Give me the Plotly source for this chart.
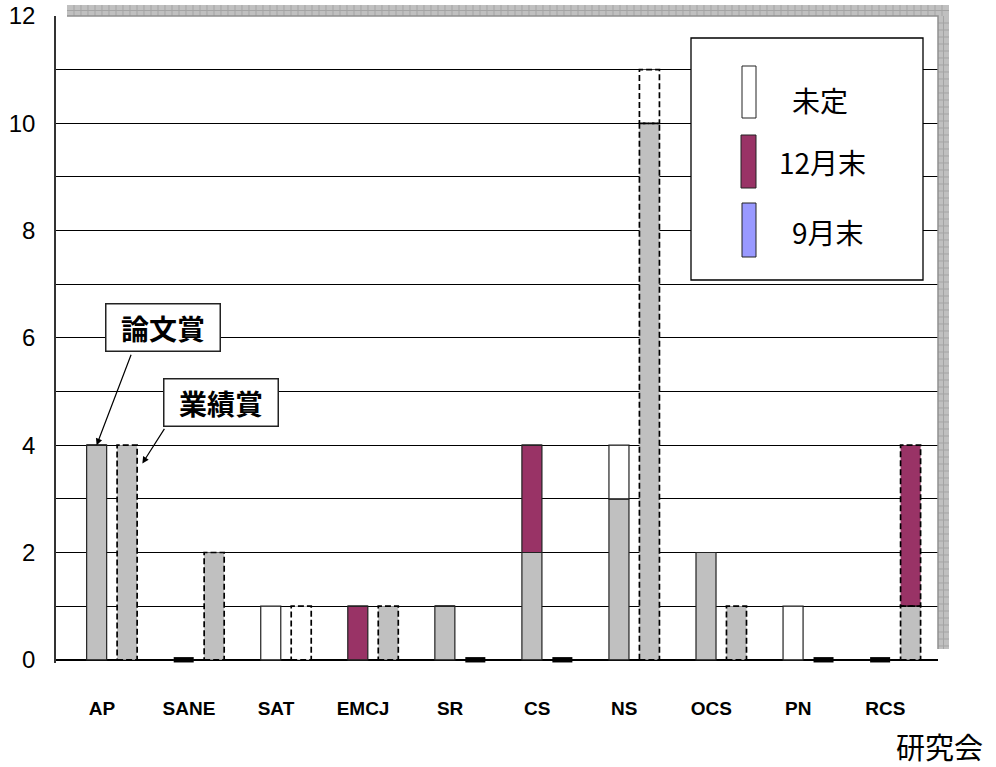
import plotly.graph_objects as go

# ---------------- data ----------------
categories = ['AP', 'SANE', 'SAT', 'EMCJ', 'SR', 'CS', 'NS', 'OCS', 'PN', 'RCS']
# 論文賞 (solid outline)
ronbun_sep = [4, 0, 0, 0, 1, 2, 3, 2, 0, 0]
ronbun_dec = [0, 0, 0, 1, 0, 2, 0, 0, 0, 0]
ronbun_tbd = [0, 0, 1, 0, 0, 0, 1, 0, 1, 0]
# 業績賞 (dashed outline)
gyoseki_sep = [4, 2, 0, 1, 0, 0, 10, 1, 0, 1]
gyoseki_dec = [0, 0, 0, 0, 0, 0, 0, 0, 0, 3]
gyoseki_tbd = [0, 0, 1, 0, 0, 0, 1, 0, 0, 0]
y_ticks = list(range(0, 13))
y_ticklabels = [str(v) if v % 2 == 0 else '' for v in y_ticks]
legend_labels = ['未定', '12月末', '9月末']
callout_labels = ['論文賞', '業績賞']
x_title = '研究会'

# ---------------- layout helpers ----------------
W, H = 996, 767
ML, MR, MT, MB = 56, 58, 16, 104
PW = W - ML - MR
PH = H - MT - MB


def px(x):
    return (x - ML) / PW


def py(y):
    return (H - MB - y) / PH


GRAY = '#C0C0C0'
PURPLE = '#993366'
BLUE = '#9999FF'
WHITE = '#FFFFFF'
JP = 'Noto Sans CJK JP'
LAT = 'Liberation Sans, Arial, sans-serif'
X_RANGE = [-0.642, 9.490]
OFF = 0.175
BW = 0.23
ZH = 0.1

n = len(categories)
idx = list(range(n))

fig = go.Figure()


def add_group(sep, dec, tbd, shift, dashed):
    base_dec = sep
    base_tbd = [s + d for s, d in zip(sep, dec)]
    segs = [(sep, [0] * n, GRAY), (dec, base_dec, PURPLE), (tbd, base_tbd, WHITE)]
    for vals, bases, col in segs:
        fig.add_trace(go.Bar(
            x=idx, y=vals, base=bases, width=BW, offset=shift - BW / 2,
            marker=dict(color=col,
                        line=dict(color='#222222', width=0 if dashed else 1.2)),
            showlegend=False, hoverinfo='skip'))
        if dashed:
            xs, ys = [], []
            for i, (v, b) in enumerate(zip(vals, bases)):
                if v > 0:
                    xl, xr = i + shift - BW / 2, i + shift + BW / 2
                    xs += [xl, xr, xr, xl, xl, None]
                    ys += [b, b, b + v, b + v, b, None]
            if xs:
                fig.add_trace(go.Scatter(
                    x=xs, y=ys, mode='lines',
                    line=dict(color='#000000', width=1.7, dash='6px,3px'),
                    showlegend=False, hoverinfo='skip'))
    # zero-value markers
    totals = [a + b + c for a, b, c in zip(sep, dec, tbd)]
    zx = [i for i, t in zip(idx, totals) if t == 0]
    if zx:
        fig.add_trace(go.Bar(
            x=zx, y=[ZH] * len(zx), base=[-ZH / 2] * len(zx), width=BW,
            offset=shift - BW / 2, marker=dict(color='black', line=dict(width=0)),
            showlegend=False, hoverinfo='skip'))


add_group(ronbun_sep, ronbun_dec, ronbun_tbd, -OFF, False)
add_group(gyoseki_sep, gyoseki_dec, gyoseki_tbd, OFF, True)

# ---------------- shapes ----------------
shapes = []
# shadow bands (top and right)
shapes.append(dict(type='rect', xref='paper', yref='paper', layer='above',
                   x0=px(67), x1=px(949), y0=py(16), y1=py(5),
                   fillcolor=GRAY, line=dict(width=0)))
shapes.append(dict(type='rect', xref='paper', yref='paper', layer='above',
                   x0=px(938), x1=px(949), y0=py(649), y1=py(16),
                   fillcolor=GRAY, line=dict(width=0)))
path = ''
x = 74
while x < 949:
    path += 'M{:.5f},{:.5f}L{:.5f},{:.5f}'.format(px(x), py(5), px(x), py(16))
    x += 7
path += 'M{:.5f},{:.5f}L{:.5f},{:.5f}'.format(px(67), py(10.5), px(949), py(10.5))
y = 23
while y < 649:
    path += 'M{:.5f},{:.5f}L{:.5f},{:.5f}'.format(px(938), py(y), px(949), py(y))
    y += 7
path += 'M{:.5f},{:.5f}L{:.5f},{:.5f}'.format(px(943.5), py(16), px(943.5), py(649))
shapes.append(dict(type='path', xref='paper', yref='paper', layer='above', path=path,
                   line=dict(color='#A4A4A4', width=1)))
# inner edge of shadow
shapes.append(dict(type='path', xref='paper', yref='paper', layer='above',
                   path='M{:.5f},{:.5f}L{:.5f},{:.5f}L{:.5f},{:.5f}'.format(
                       px(67), py(16), px(938), py(16), px(938), py(649)),
                   line=dict(color='#909090', width=1.5)))

# legend box
shapes.append(dict(type='rect', xref='paper', yref='paper', layer='above',
                   x0=px(691), x1=px(923), y0=py(280), y1=py(38),
                   fillcolor='white', line=dict(color='black', width=1.3)))
patches = [(WHITE, 742, 756, 66, 118), (PURPLE, 741, 756, 135, 188), (BLUE, 742, 756, 203, 257)]
for col, x0, x1, y0, y1 in patches:
    shapes.append(dict(type='rect', xref='paper', yref='paper', layer='above',
                       x0=px(x0), x1=px(x1), y0=py(y1), y1=py(y0),
                       fillcolor=col, line=dict(color='#222222', width=1)))

# ---------------- annotations ----------------
annotations = []
for txt, (cx, cy) in zip(legend_labels, [(820, 100), (822, 162), (828, 232)]):
    annotations.append(dict(xref='paper', yref='paper', x=px(cx), y=py(cy),
                            text=txt, showarrow=False, xanchor='center', yanchor='middle',
                            font=dict(family=JP, size=28, color='black')))
for txt, (cx, cy) in zip(callout_labels, [(162.5, 327.5), (220.5, 402)]):
    annotations.append(dict(xref='paper', yref='paper', x=px(cx), y=py(cy),
                            text=txt, showarrow=False, xanchor='center', yanchor='middle',
                            width=113, height=46, borderpad=0, bordercolor='#222222',
                            borderwidth=1.5, bgcolor='white',
                            font=dict(family=JP, size=28, color='black', weight='bold')))
# arrows
annotations.append(dict(xref='x', yref='y', x=-OFF, y=ronbun_sep[0], text='',
                        showarrow=True, ax=35, ay=-92, arrowhead=2, arrowsize=1.1,
                        arrowwidth=1.2, arrowcolor='black', standoff=0))
annotations.append(dict(xref='x', yref='y', x=OFF + BW / 2 + 0.06, y=gyoseki_sep[0] - 0.34,
                        text='', showarrow=True, ax=23, ay=-36, arrowhead=2, arrowsize=1.1,
                        arrowwidth=1.2, arrowcolor='black', standoff=0))
annotations.append(dict(xref='paper', yref='paper', x=px(940), y=py(746), text=x_title,
                        showarrow=False, xanchor='center', yanchor='middle',
                        font=dict(family=JP, size=29, color='black')))

fig.update_layout(
    template='none',
    width=W, height=H, autosize=False,
    margin=dict(l=ML, r=MR, t=MT, b=MB, pad=0),
    paper_bgcolor='white', plot_bgcolor='white',
    font=dict(family=LAT, color='black'),
    barmode='overlay', showlegend=False,
    shapes=shapes, annotations=annotations,
    xaxis=dict(type='linear', range=X_RANGE, tickvals=idx, ticktext=categories,
               showgrid=False, zeroline=False, showline=False, ticks='',
               automargin=False,
               tickfont=dict(family=LAT, size=19, color='black', weight='bold'),
               ticklabelstandoff=32, ticklabelshift=-10, fixedrange=True),
    yaxis=dict(range=[-0.06, 12], tickvals=y_ticks, ticktext=y_ticklabels,
               showgrid=True, gridcolor='black', gridwidth=1,
               zeroline=True, zerolinecolor='black', zerolinewidth=1.5,
               showline=True, linecolor='#333333', linewidth=1.5, ticks='',
               automargin=False,
               tickfont=dict(family=LAT, size=24, color='black'),
               ticklabelstandoff=14, fixedrange=True),
)

fig.write_html('out.html', config={'displayModeBar': False},
               post_script="document.body.style.margin='0';document.body.style.overflow='hidden';")
